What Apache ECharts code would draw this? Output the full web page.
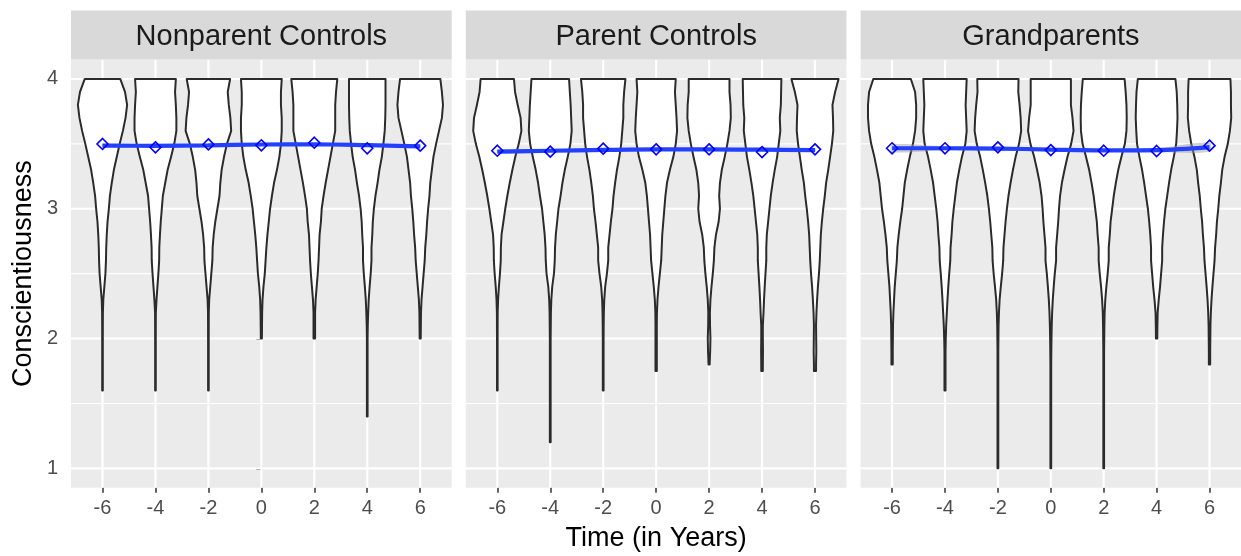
<!DOCTYPE html>
<html>
<head>
<meta charset="utf-8">
<script src="https://cdn.jsdelivr.net/npm/echarts@6/dist/echarts.min.js"></script>
<style>
html,body{margin:0;padding:0;background:#fff;}
#chart{width:1241px;height:556px;}
</style>
</head>
<body>
<div id="chart"></div>
<script>
// ---------------- data ----------------
const times = [-6, -4, -2, 0, 2, 4, 6];
const panelTitles = ['Nonparent Controls', 'Parent Controls', 'Grandparents'];
const yBreaks = [1, 2, 3, 4];
const yMinorBreaks = [1.5, 2.5, 3.5];
const xBreaks = [-6, -4, -2, 0, 2, 4, 6];
// density levels (Conscientiousness values) at which violin half-widths were read
const levels = [4.0, 3.9, 3.8, 3.7, 3.6, 3.5, 3.4, 3.3, 3.2, 3.1, 3.0, 2.9, 2.8, 2.7, 2.6, 2.5, 2.4, 2.3, 2.2, 2.1, 2.0, 1.9, 1.8, 1.7, 1.6, 1.5, 1.4, 1.3, 1.2, 1.1, 1.0];

// violin half-widths (in years) per time point, Nonparent Controls
const violinNonparent = [
  [0.67,0.85,0.93,0.87,0.77,0.65,0.54,0.43,0.35,0.28,0.24,0.19,0.16,0.14,0.13,0.11,0.07,0.03,0.015,0.013,0.012],
  [0.77,0.74,0.77,0.79,0.79,0.71,0.59,0.46,0.37,0.28,0.24,0.20,0.17,0.145,0.14,0.11,0.075,0.04,0.015,0.013,0.012],
  [0.82,0.73,0.77,0.83,0.86,0.70,0.59,0.50,0.45,0.42,0.34,0.26,0.20,0.16,0.15,0.11,0.07,0.03,0.015,0.013,0.012],
  [0.77,0.74,0.74,0.77,0.77,0.74,0.68,0.59,0.48,0.40,0.33,0.28,0.23,0.19,0.16,0.13,0.08,0.045,0.03,0.025,0.02],
  [0.87,0.82,0.79,0.79,0.79,0.70,0.61,0.52,0.43,0.35,0.28,0.25,0.20,0.18,0.16,0.13,0.09,0.05,0.03,0.03,0.03],
  [0.69,0.69,0.69,0.68,0.66,0.61,0.55,0.46,0.39,0.31,0.25,0.21,0.19,0.16,0.16,0.13,0.09,0.055,0.035,0.02,0.013],
  [0.76,0.82,0.86,0.82,0.71,0.60,0.50,0.44,0.38,0.35,0.30,0.26,0.23,0.19,0.17,0.13,0.09,0.05,0.03,0.025,0.02]
];
const minNonparent = [1.6, 1.6, 1.6, 2.0, 2.0, 1.4, 2.0];
const meanNonparent = [3.499, 3.473, 3.496, 3.489, 3.509, 3.466, 3.486];
const smoothNonparent = [3.487, 3.485, 3.488, 3.495, 3.497, 3.490, 3.480];
const seNonparent = [0.014, 0.009, 0.007, 0.007, 0.007, 0.009, 0.014];

// Parent Controls
const violinParent = [
  [0.63,0.67,0.77,0.88,0.91,0.81,0.68,0.57,0.47,0.38,0.30,0.23,0.16,0.135,0.13,0.10,0.06,0.03,0.015,0.013,0.012],
  [0.71,0.74,0.77,0.79,0.81,0.76,0.66,0.55,0.46,0.39,0.31,0.26,0.21,0.18,0.17,0.14,0.075,0.04,0.025,0.02,0.015],
  [0.84,0.79,0.76,0.76,0.72,0.68,0.61,0.52,0.45,0.39,0.35,0.29,0.24,0.19,0.19,0.14,0.075,0.04,0.025,0.018,0.015],
  [0.74,0.71,0.74,0.77,0.79,0.74,0.65,0.52,0.41,0.35,0.31,0.27,0.23,0.21,0.19,0.14,0.09,0.05,0.03,0.025,0.025],
  [0.77,0.77,0.81,0.82,0.77,0.69,0.59,0.48,0.41,0.38,0.41,0.36,0.26,0.20,0.18,0.14,0.09,0.05,0.03,0.035,0.05,0.04,0.02],
  [0.73,0.72,0.71,0.67,0.69,0.63,0.57,0.48,0.40,0.33,0.28,0.23,0.18,0.16,0.16,0.13,0.10,0.075,0.055,0.03,0.03,0.035,0.03],
  [0.89,0.76,0.66,0.68,0.69,0.64,0.57,0.50,0.42,0.37,0.31,0.26,0.22,0.20,0.18,0.15,0.11,0.08,0.055,0.04,0.045,0.05,0.04]
];
const minParent = [1.6, 1.2, 1.6, 1.75, 1.8, 1.75, 1.75];
const meanParent = [3.447, 3.440, 3.463, 3.458, 3.458, 3.437, 3.458];
const smoothParent = [3.440, 3.447, 3.453, 3.457, 3.457, 3.455, 3.452];
const seParent = [0.014, 0.009, 0.007, 0.007, 0.007, 0.009, 0.014];

// Grandparents
const violinGrand = [
  [0.71,0.87,0.91,0.91,0.87,0.79,0.67,0.57,0.48,0.43,0.38,0.31,0.25,0.20,0.18,0.14,0.10,0.075,0.05,0.035,0.03,0.025],
  [0.82,0.80,0.78,0.80,0.82,0.77,0.64,0.54,0.45,0.39,0.33,0.28,0.25,0.21,0.20,0.16,0.125,0.095,0.07,0.045,0.03,0.02],
  [0.78,0.77,0.82,0.86,0.88,0.80,0.67,0.57,0.48,0.40,0.34,0.29,0.25,0.21,0.20,0.16,0.11,0.065,0.04,0.025,0.02,0.015],
  [0.76,0.76,0.76,0.82,0.86,0.77,0.63,0.52,0.42,0.35,0.31,0.28,0.24,0.20,0.20,0.15,0.11,0.075,0.05,0.035,0.025,0.02,0.015],
  [0.79,0.83,0.86,0.87,0.86,0.80,0.67,0.55,0.46,0.38,0.32,0.26,0.23,0.19,0.19,0.15,0.10,0.06,0.035,0.025,0.02,0.015],
  [0.71,0.76,0.78,0.79,0.77,0.74,0.65,0.55,0.47,0.40,0.33,0.28,0.24,0.21,0.21,0.17,0.13,0.08,0.04,0.03,0.025],
  [0.79,0.81,0.81,0.82,0.77,0.69,0.57,0.48,0.43,0.37,0.33,0.28,0.25,0.21,0.19,0.15,0.11,0.075,0.05,0.035,0.03,0.025]
];
const minGrand = [1.8, 1.6, 1.0, 1.0, 1.0, 2.0, 1.8];
const meanGrand = [3.466, 3.466, 3.473, 3.452, 3.447, 3.445, 3.486];
const smoothGrand = [3.466, 3.466, 3.464, 3.456, 3.450, 3.452, 3.475];
const seGrand = [0.030, 0.016, 0.011, 0.010, 0.011, 0.016, 0.035];

// ---------------- layout / style ----------------
const FONT = '"Liberation Sans", Arial, Helvetica, sans-serif';
const panelLeft = [71, 465.8, 860.6];
const panelWidth = 380.7;
const panelTop = 59.5;
const panelHeight = 428.3;
const stripTop = 10.5;
const X_MIN = -7.19, X_MAX = 7.19, Y_MIN = 0.85, Y_MAX = 4.15;

const panels = [
  {violin: violinNonparent, mins: minNonparent, mean: meanNonparent, smooth: smoothNonparent, se: seNonparent},
  {violin: violinParent, mins: minParent, mean: meanParent, smooth: smoothParent, se: seParent},
  {violin: violinGrand, mins: minGrand, mean: meanGrand, smooth: smoothGrand, se: seGrand}
];

const chart = echarts.init(document.getElementById('chart'), null, {renderer: 'canvas'});

const grids = [], xAxes = [], yAxes = [], series = [], graphics = [];

panels.forEach((p, gi) => {
  grids.push({
    left: panelLeft[gi], top: panelTop, width: panelWidth, height: panelHeight,
    show: true, backgroundColor: '#ebebeb', borderWidth: 0, containLabel: false
  });
  xAxes.push({
    type: 'value', gridIndex: gi, min: X_MIN, max: X_MAX,
    axisLine: {show: false},
    axisTick: {show: true, customValues: xBreaks, length: 5, lineStyle: {color: '#333333', width: 1.5}},
    axisLabel: {show: true, customValues: xBreaks, color: '#4d4d4d', fontSize: 20, fontFamily: FONT, margin: 11},
    splitLine: {show: false}
  });
  yAxes.push({
    type: 'value', gridIndex: gi, min: Y_MIN, max: Y_MAX,
    axisLine: {show: false},
    axisTick: {show: gi === 0, customValues: yBreaks, length: 5, lineStyle: {color: '#333333', width: 1.5}},
    axisLabel: {show: gi === 0, customValues: yBreaks, color: '#4d4d4d', fontSize: 20, fontFamily: FONT, margin: 13},
    splitLine: {show: false}
  });

  // grid lines
  series.push({
    type: 'custom', xAxisIndex: gi, yAxisIndex: gi, z: 1, silent: true,
    data: yMinorBreaks.map(v => [v, 0]).concat(yBreaks.map(v => [v, 1])),
    renderItem: (params, api) => {
      const v = api.value(0), major = api.value(1);
      const a = api.coord([X_MIN, v]), b = api.coord([X_MAX, v]);
      return {type: 'line', shape: {x1: a[0], y1: a[1], x2: b[0], y2: b[1]},
        style: {stroke: '#ffffff', lineWidth: major ? 2.1 : 1.1}};
    }
  });
  series.push({
    type: 'custom', xAxisIndex: gi, yAxisIndex: gi, z: 1, silent: true,
    data: xBreaks.map(v => [v]),
    renderItem: (params, api) => {
      const v = api.value(0);
      const a = api.coord([v, Y_MIN]), b = api.coord([v, Y_MAX]);
      return {type: 'line', shape: {x1: a[0], y1: a[1], x2: b[0], y2: b[1]},
        style: {stroke: '#ffffff', lineWidth: 2.1}};
    }
  });

  // violins
  series.push({
    type: 'custom', xAxisIndex: gi, yAxisIndex: gi, z: 2, silent: true, clip: true,
    data: times.map((t, k) => [t, k]),
    renderItem: (params, api) => {
      const t = api.value(0), k = api.value(1);
      const w = p.violin[k], minV = p.mins[k];
      const right = [], left = [];
      let lastW = w[0];
      for (let j = 0; j < levels.length; j++) {
        const lv = levels[j];
        if (lv < minV - 1e-9) break;
        const ww = j < w.length ? w[j] : w[w.length - 1];
        lastW = ww;
        right.push(api.coord([t + ww, lv]));
        left.push(api.coord([t - ww, lv]));
      }
      right.push(api.coord([t + lastW, minV]));
      left.push(api.coord([t - lastW, minV]));
      const pts = right.concat(left.reverse());
      return {type: 'polygon', shape: {points: pts},
        style: {fill: '#ffffff', stroke: '#2b2b2b', lineWidth: 2, lineJoin: 'round'}};
    }
  });

  // smooth ribbon
  series.push({
    type: 'custom', xAxisIndex: gi, yAxisIndex: gi, z: 3, silent: true,
    data: [[0]],
    renderItem: (params, api) => {
      const up = times.map((t, k) => api.coord([t, p.smooth[k] + p.se[k]]));
      const lo = times.map((t, k) => api.coord([t, p.smooth[k] - p.se[k]]));
      return {type: 'polygon', shape: {points: up.concat(lo.reverse()), smooth: 0.3},
        style: {fill: 'rgba(153,153,153,0.45)', stroke: null}};
    }
  });

  // smooth line
  series.push({
    type: 'line', xAxisIndex: gi, yAxisIndex: gi, z: 4, silent: true,
    data: times.map((t, k) => [t, p.smooth[k]]),
    showSymbol: false, smooth: 0.35,
    lineStyle: {color: '#2440ff', width: 4.2},
    animation: false
  });

  // means
  series.push({
    type: 'scatter', xAxisIndex: gi, yAxisIndex: gi, z: 5, silent: true,
    data: times.map((t, k) => [t, p.mean[k]]),
    symbol: 'diamond', symbolSize: [11, 11],
    itemStyle: {color: 'rgba(0,0,0,0)', borderColor: '#0000ff', borderWidth: 1.6, opacity: 1},
    animation: false
  });

  // strip
  graphics.push({
    type: 'rect', shape: {x: panelLeft[gi], y: stripTop, width: panelWidth, height: panelTop - stripTop},
    style: {fill: '#d9d9d9'}, z: 10
  });
  graphics.push({
    type: 'text', x: panelLeft[gi] + panelWidth / 2, y: (stripTop + panelTop) / 2 + 1.5,
    style: {text: panelTitles[gi], fill: '#1a1a1a', font: '29px ' + FONT, textAlign: 'center', textVerticalAlign: 'middle'},
    z: 11
  });
});

graphics.push({
  type: 'text', x: (panelLeft[0] + panelLeft[2] + panelWidth) / 2, y: 539,
  style: {text: 'Time (in Years)', fill: '#000000', font: '27px ' + FONT, textAlign: 'center', textVerticalAlign: 'middle'}
});
graphics.push({
  type: 'text', x: 24, y: panelTop + panelHeight / 2, rotation: Math.PI / 2,
  style: {text: 'Conscientiousness', fill: '#000000', font: '27px ' + FONT, textAlign: 'center', textVerticalAlign: 'middle'}
});

chart.setOption({
  animation: false,
  backgroundColor: '#ffffff',
  grid: grids,
  xAxis: xAxes,
  yAxis: yAxes,
  series: series,
  graphic: graphics
});
</script>
</body>
</html>
